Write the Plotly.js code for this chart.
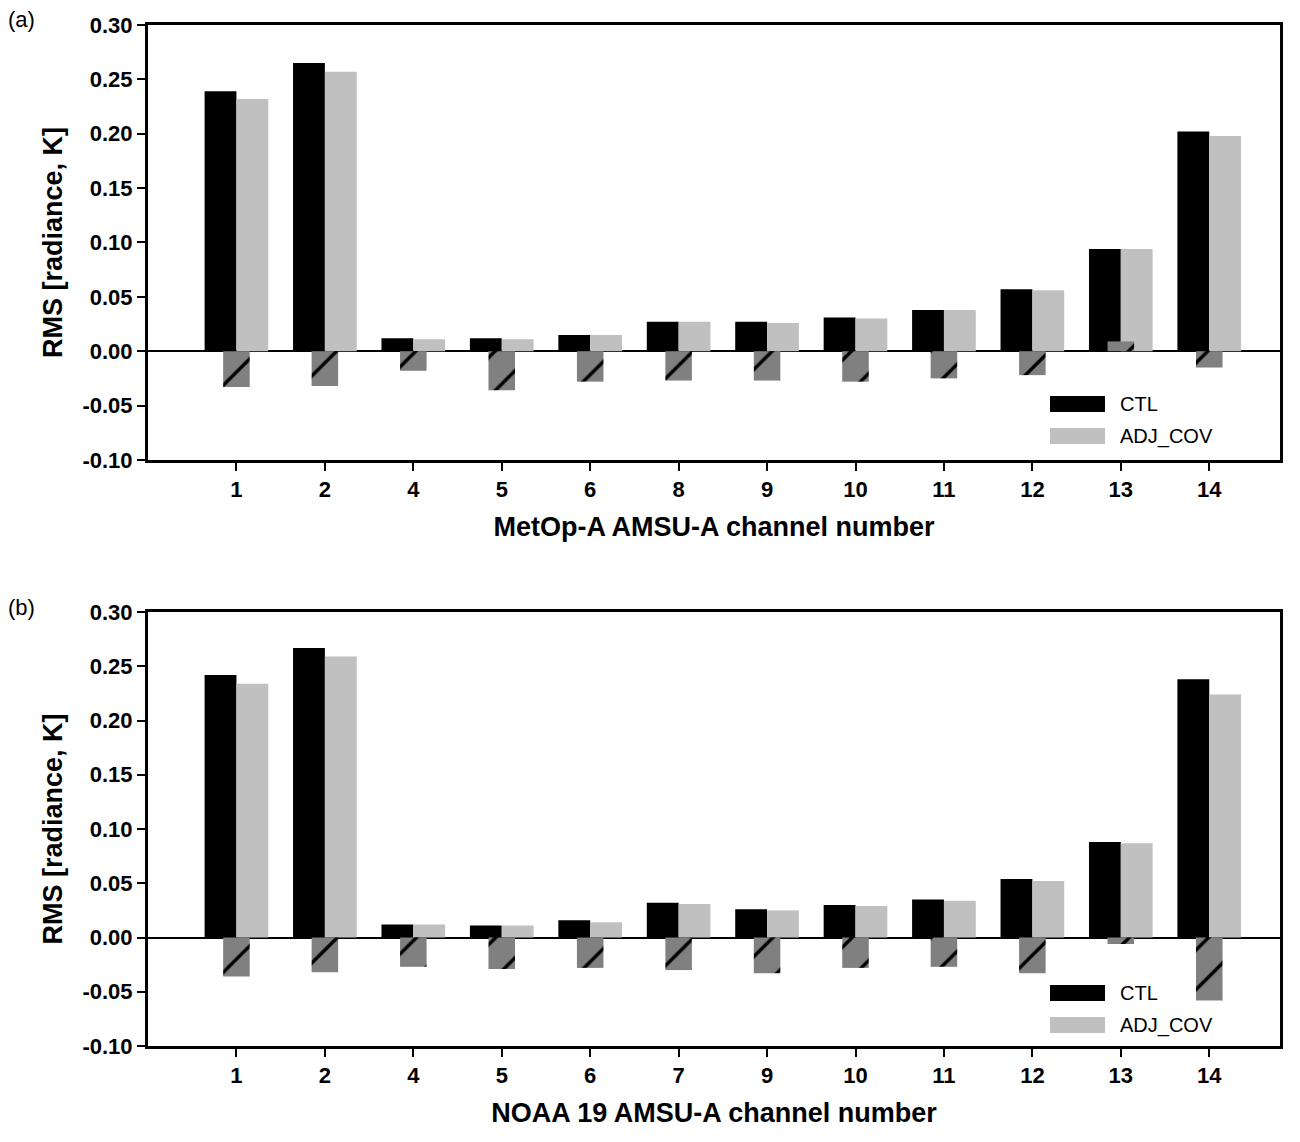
<!DOCTYPE html>
<html><head><meta charset="utf-8">
<script src="https://cdn.plot.ly/plotly-3.0.1.min.js"></script>
<style>body{margin:0;background:#fff}</style>
</head><body>
<div id="chart" style="width:1300px;height:1142px"></div>
<script>
// channel labels per panel
const chA = ["1","2","4","5","6","8","9","10","11","12","13","14"];
const chB = ["1","2","4","5","6","7","9","10","11","12","13","14"];

// panel (a) MetOp-A
const ctlA = [0.239,0.265,0.012,0.012,0.015,0.027,0.027,0.031,0.038,0.057,0.094,0.202];
const adjA = [0.232,0.257,0.011,0.011,0.015,0.027,0.026,0.030,0.038,0.056,0.094,0.198];
const difA = [-0.033,-0.032,-0.018,-0.036,-0.028,-0.027,-0.027,-0.028,-0.025,-0.022,0.009,-0.015];

// panel (b) NOAA 19
const ctlB = [0.242,0.267,0.012,0.011,0.016,0.032,0.026,0.030,0.035,0.054,0.088,0.238];
const adjB = [0.234,0.259,0.012,0.011,0.014,0.031,0.025,0.029,0.034,0.052,0.087,0.224];
const difB = [-0.036,-0.032,-0.027,-0.029,-0.028,-0.030,-0.033,-0.028,-0.027,-0.033,-0.006,-0.058];

const yTicks = [-0.10,-0.05,0,0.05,0.10,0.15,0.20,0.25,0.30];
const yTickText = yTicks.map(v => v.toFixed(2));

const pos = chA.map((_, i) => i);
const FONT = "Liberation Sans, Arial, sans-serif";

function panel(ctl, adj, dif, xa, ya) {
  return [
    { type: "bar", x: pos, y: ctl, xaxis: xa, yaxis: ya, name: "CTL", showlegend: false,
      width: 0.36, offset: -0.36, marker: { color: "#000", line: { width: 0 } } },
    { type: "bar", x: pos, y: adj, xaxis: xa, yaxis: ya, name: "ADJ_COV", showlegend: false,
      width: 0.36, offset: 0, marker: { color: "#c0c0c0", line: { width: 0 } } },
    { type: "bar", x: pos, y: dif, xaxis: xa, yaxis: ya, showlegend: false,
      width: 0.3, offset: -0.15,
      marker: { color: "#808080", line: { width: 0 },
        pattern: { shape: "/", fgcolor: "#000", bgcolor: "#808080", size: 28, solidity: 0.12 } } },
  ];
}

const data = [
  ...panel(ctlA, adjA, difA, "x", "y"),
  ...panel(ctlB, adjB, difB, "x2", "y2"),
];

const axX = (ticks, dom, title) => ({
  anchor: dom, range: [-1, 11.8], tickvals: pos, ticktext: ticks,
  ticks: "outside", ticklen: 8, tickwidth: 2, tickcolor: "#000",
  showline: true, linewidth: 3, linecolor: "#000", mirror: true,
  showgrid: false, zeroline: false,
  tickfont: { family: FONT, size: 22, color: "#000", weight: "bold" },
  title: { text: title, standoff: 16, font: { family: FONT, size: 27, color: "#000", weight: "bold" } },
});
const axY = (anchor, domain) => ({
  anchor, domain, range: [-0.1, 0.3], tickvals: yTicks, ticktext: yTickText,
  ticks: "outside", ticklen: 8, tickwidth: 2, tickcolor: "#000",
  showline: true, linewidth: 3, linecolor: "#000", mirror: true,
  showgrid: false, zeroline: true, zerolinecolor: "#000", zerolinewidth: 2,
  tickfont: { family: FONT, size: 22, color: "#000", weight: "bold" },
  title: { text: "RMS [radiance, K]", standoff: 12, font: { family: FONT, size: 27, color: "#000", weight: "bold" } },
});

// hand-drawn legend (paper coords)
const px = v => (v - 148) / 1132, py = v => (1046 - v) / 1021;
const legend = [];
const legAnn = [];
[[396, "CTL", "#000"], [428, "ADJ_COV", "#c0c0c0"], [985, "CTL", "#000"], [1017, "ADJ_COV", "#c0c0c0"]]
  .forEach(([top, label, col]) => {
    legend.push({ type: "rect", xref: "paper", yref: "paper", x0: px(1050), x1: px(1105),
      y0: py(top + 16), y1: py(top), fillcolor: col, line: { width: 0 } });
    legAnn.push({ text: label, xref: "paper", yref: "paper", x: px(1118), y: py(top + 8),
      xanchor: "left", yanchor: "middle", showarrow: false,
      font: { family: FONT, size: 20, color: "#000" } });
  });

const layout = {
  width: 1300, height: 1142,
  margin: { l: 148, r: 20, t: 25, b: 96 },
  paper_bgcolor: "#fff", plot_bgcolor: "#fff",
  barmode: "overlay", showlegend: false,
  xaxis: axX(chA, "y", "MetOp-A AMSU-A channel number"),
  yaxis: axY("x", [0.574, 1]),
  xaxis2: axX(chB, "y2", "NOAA 19 AMSU-A channel number"),
  yaxis2: axY("x2", [0, 0.425]),
  shapes: legend,
  annotations: [
    { text: "(a)", xref: "paper", yref: "paper", x: px(6), y: py(20), xanchor: "left", yanchor: "middle",
      showarrow: false, font: { family: FONT, size: 22, color: "#000" } },
    { text: "(b)", xref: "paper", yref: "paper", x: px(6), y: py(607), xanchor: "left", yanchor: "middle",
      showarrow: false, font: { family: FONT, size: 22, color: "#000" } },
    ...legAnn,
  ],
};

Plotly.newPlot("chart", data, layout, { displayModeBar: false });
</script>
</body></html>
